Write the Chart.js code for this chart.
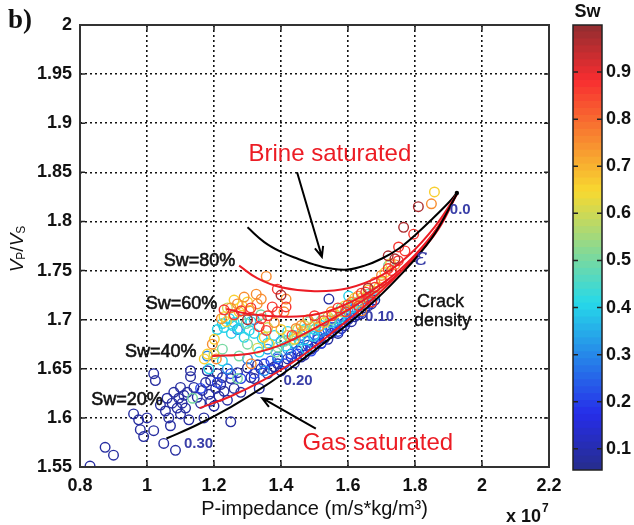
<!DOCTYPE html>
<html>
<head>
<meta charset="utf-8">
<script src="https://cdn.jsdelivr.net/npm/chart.js@4.4.0/dist/chart.umd.min.js"></script>
<style>
  html, body { margin: 0; padding: 0; background: #fff; }
  #wrap { position: relative; width: 634px; height: 525px; }
  #main { position: absolute; left: 0; top: 0; }
  #cbar { position: absolute; left: 560px; top: 0; }
</style>
</head>
<body>
<div id="wrap">
  <canvas id="main" width="634" height="525"></canvas>
  <canvas id="cbar" width="74" height="525"></canvas>
</div>
<script>
// axes
var xTicks = [0.8, 1, 1.2, 1.4, 1.6, 1.8, 2, 2.2];
var yTicks = [1.55, 1.6, 1.65, 1.7, 1.75, 1.8, 1.85, 1.9, 1.95, 2];
var cbTicks = [0.1, 0.2, 0.3, 0.4, 0.5, 0.6, 0.7, 0.8, 0.9];
var cbMin = 0.055, cbMax = 1.0;

// measured samples, grouped by water saturation (P-impedance x1e7, Vp/Vs)
var swLevels = [0.08, 0.2, 0.3, 0.4, 0.5, 0.6, 0.66, 0.75, 0.87, 0.97];

var ptsSw08 = [
  [0.83,1.551],[0.875,1.570],[0.90,1.562],[0.96,1.604],[0.975,1.598],[0.98,1.588],[0.99,1.581],
  [1.00,1.600],[1.02,1.587],[1.02,1.645],[1.025,1.638],[1.04,1.613],[1.05,1.574],[1.055,1.607],
  [1.06,1.620],[1.065,1.600],[1.07,1.592],[1.075,1.615],[1.08,1.626],[1.085,1.567],[1.09,1.610],
  [1.095,1.620],[1.10,1.604],[1.10,1.631],[1.105,1.615],[1.11,1.623],[1.115,1.610],[1.12,1.626],
  [1.125,1.598],[1.13,1.642],[1.13,1.648],[1.14,1.631],[1.15,1.621],[1.16,1.615],[1.165,1.628],
  [1.17,1.600],[1.175,1.636],[1.18,1.648],[1.185,1.624],[1.19,1.617],[1.19,1.638],[1.20,1.612],
  [1.205,1.630],[1.21,1.645],[1.215,1.622],[1.22,1.634],[1.225,1.641],[1.23,1.627],[1.24,1.618],
  [1.25,1.596],[1.25,1.640],[1.26,1.630],[1.27,1.646],[1.28,1.626],[1.30,1.651],[1.31,1.641],
  [1.335,1.630],[1.33,1.654],[1.36,1.645],[1.38,1.652],[1.40,1.648],[1.42,1.660],[1.44,1.656],
  [1.45,1.668],[1.47,1.664],[1.48,1.674],[1.50,1.672],[1.51,1.680],[1.53,1.681],[1.55,1.686],
  [1.56,1.692],[1.58,1.691],[1.60,1.700],[1.62,1.703],[1.63,1.705],[1.65,1.712],[1.67,1.716],
  [1.543,1.721],[1.37,1.650],[1.39,1.655],[1.43,1.662],[1.46,1.662],[1.49,1.670],[1.52,1.676],
  [1.54,1.680],[1.57,1.686],[1.59,1.694],[1.61,1.698],[1.64,1.706],[1.66,1.714],[1.68,1.720],
  [1.34,1.650],[1.32,1.640]
];
var ptsSw20 = [
  [1.16,1.630],[1.21,1.636],[1.28,1.640],[1.32,1.645],[1.37,1.658],[1.41,1.655],[1.43,1.665],
  [1.46,1.672],[1.49,1.668],[1.52,1.676],[1.54,1.690],[1.57,1.688],[1.59,1.697],[1.61,1.707],
  [1.64,1.708],[1.60,1.701],[1.39,1.660],[1.45,1.665],[1.48,1.678],[1.51,1.683],[1.55,1.692],
  [1.58,1.700],[1.62,1.711],[1.66,1.716],[1.35,1.655],[1.25,1.645]
];
var ptsSw30 = [
  [1.18,1.663],[1.24,1.650],[1.30,1.660],[1.35,1.648],[1.39,1.662],[1.44,1.676],[1.47,1.680],
  [1.50,1.685],[1.53,1.690],[1.56,1.698],[1.62,1.712],[1.66,1.720],[1.27,1.690],[1.32,1.700],
  [1.42,1.670],[1.46,1.684],[1.52,1.688],[1.58,1.703],[1.60,1.709],[1.68,1.724],[1.36,1.670],
  [1.40,1.678]
];
var ptsSw40 = [
  [1.246,1.701],[1.225,1.696],[1.255,1.694],[1.275,1.691],[1.305,1.689],[1.252,1.686],[1.344,1.681],
  [1.225,1.658],[1.335,1.667],[1.415,1.673],[1.454,1.679],[1.475,1.670],[1.498,1.683],[1.573,1.701],
  [1.602,1.724],[1.21,1.690],[1.29,1.682],[1.38,1.684],[1.52,1.694],[1.59,1.707],[1.64,1.716],
  [1.42,1.688],[1.185,1.650],[1.31,1.698],[1.44,1.684],[1.47,1.690],[1.50,1.690],[1.55,1.697],
  [1.61,1.712],[1.67,1.725],[1.36,1.676],[1.26,1.697],[1.28,1.700],[1.23,1.692],[1.32,1.686]
];
var ptsSw50 = [
  [1.136,1.620],[1.296,1.696],[1.225,1.670],[1.275,1.663],[1.385,1.667],[1.469,1.688],[1.484,1.698],
  [1.721,1.755],[1.41,1.678],[1.55,1.700],[1.63,1.718],[1.27,1.640],[1.34,1.705],[1.26,1.704],
  [1.43,1.679],[1.52,1.699],[1.58,1.712],[1.66,1.726],[1.39,1.672],[1.30,1.675]
];
var ptsSw60 = [
  [1.20,1.665],[1.33,1.671],[1.45,1.690],[1.58,1.708],[1.68,1.728],[1.24,1.712],[1.36,1.692],
  [1.50,1.695],[1.42,1.684],[1.54,1.703],[1.61,1.716],[1.70,1.738],[1.47,1.694],[1.64,1.722]
];
var ptsSw66 = [
  [1.284,1.714],[1.275,1.708],[1.237,1.698],[1.180,1.665],[1.201,1.680],[1.171,1.660],[1.365,1.675],
  [1.504,1.701],[1.463,1.688],[1.692,1.733],[1.727,1.757],[1.858,1.830],[1.40,1.690],[1.56,1.706],
  [1.62,1.722],[1.30,1.718],[1.26,1.720],[1.44,1.680],[1.53,1.697],[1.59,1.714],[1.66,1.730],
  [1.71,1.748],[1.35,1.682],[1.23,1.703]
];
var ptsSw75 = [
  [1.326,1.726],[1.341,1.721],[1.329,1.716],[1.356,1.744],[1.415,1.721],[1.305,1.709],[1.222,1.701],
  [1.195,1.675],[1.207,1.660],[1.311,1.655],[1.445,1.691],[1.513,1.693],[1.641,1.709],[1.611,1.718],
  [1.849,1.818],[1.409,1.708],[1.70,1.745],[1.48,1.700],[1.25,1.712],[1.29,1.723],[1.46,1.694],
  [1.55,1.708],[1.63,1.724],[1.68,1.738],[1.74,1.756],[1.38,1.697],[1.27,1.716]
];
var ptsSw87 = [
  [1.389,1.731],[1.281,1.709],[1.341,1.701],[1.335,1.693],[1.356,1.689],[1.389,1.708],[1.415,1.713],
  [1.374,1.713],[1.433,1.684],[1.653,1.728],[1.662,1.721],[1.671,1.718],[1.632,1.714],[1.552,1.704],
  [1.528,1.699],[1.593,1.708],[1.751,1.774],[1.796,1.787],[1.70,1.740],[1.73,1.750],[1.68,1.733],
  [1.26,1.705],[1.23,1.710],[1.60,1.715],[1.75,1.760],[1.50,1.704],[1.57,1.712],[1.64,1.727],
  [1.72,1.752],[1.77,1.770],[1.36,1.704],[1.31,1.712]
];
var ptsSw97 = [
  [1.810,1.815],[1.766,1.794],[1.72,1.765],[1.30,1.700],[1.40,1.725],[1.66,1.732],[1.74,1.762]
];
var swGroups = [ptsSw08, ptsSw20, ptsSw30, ptsSw40, ptsSw50, ptsSw60, ptsSw66, ptsSw75, ptsSw87, ptsSw97];

// model curves, crack density 0.30 -> 0.0
var gasX   = [1.058, 1.15, 1.25, 1.35, 1.45, 1.55, 1.65, 1.75, 1.85, 1.925];
var gasY   = [1.579, 1.593, 1.611, 1.632, 1.656, 1.682, 1.710, 1.743, 1.783, 1.828];
var sw20X  = [1.157, 1.25, 1.35, 1.45, 1.55, 1.65, 1.75, 1.85, 1.925];
var sw20Y  = [1.610, 1.622, 1.639, 1.660, 1.686, 1.714, 1.746, 1.785, 1.828];
var sw40X  = [1.195, 1.30, 1.39, 1.51, 1.62, 1.72, 1.80, 1.87, 1.925];
var sw40Y  = [1.663, 1.665, 1.673, 1.693, 1.714, 1.738, 1.763, 1.792, 1.828];
var sw60X  = [1.237, 1.30, 1.415, 1.513, 1.62, 1.72, 1.80, 1.87, 1.925];
var sw60Y  = [1.711, 1.706, 1.703, 1.706, 1.720, 1.741, 1.766, 1.795, 1.828];
var sw80X  = [1.275, 1.33, 1.40, 1.50, 1.60, 1.70, 1.78, 1.86, 1.925];
var sw80Y  = [1.755, 1.742, 1.733, 1.729, 1.732, 1.745, 1.765, 1.795, 1.828];
var brineX = [1.30, 1.35, 1.40, 1.45, 1.50, 1.55, 1.60, 1.65, 1.70, 1.75, 1.80, 1.85, 1.90, 1.925];
var brineY = [1.794, 1.779, 1.769, 1.762, 1.756, 1.752, 1.751, 1.755, 1.762, 1.772, 1.786, 1.802, 1.819, 1.829];

var FONT = "'Liberation Sans', Arial, Helvetica, sans-serif";
var RED = '#ec1c24';
var BLUE = '#3a3fa8';

// matlab-like jet colormap, toned down a little
function jet(v) {
  var t = (v - cbMin) / (cbMax - cbMin);
  var f = function(a) { return Math.max(0, Math.min(1, 1.5 - Math.abs(4 * t - a))); };
  var r = f(3), g = f(2), b = f(1);
  return 'rgb(' + Math.round(r * 210 + 38) + ',' + Math.round(g * 172 + 45) + ',' + Math.round(b * 185 + 48) + ')';
}

function zip(xs, ys) {
  return xs.map(function(x, i) { return {x: x, y: ys[i]}; });
}

var datasets = [];
swGroups.forEach(function(pts, i) {
  datasets.push({
    data: pts.map(function(p) { return {x: p[0], y: p[1]}; }),
    pointStyle: 'circle',
    pointRadius: 4.8,
    pointBorderWidth: 1.4,
    pointBackgroundColor: 'rgba(0,0,0,0)',
    pointBorderColor: jet(swLevels[i]),
    showLine: false,
    order: 20 - i
  });
});

function curve(xs, ys, color) {
  return {
    data: zip(xs, ys),
    showLine: true,
    borderColor: color,
    borderWidth: 2,
    pointRadius: 0,
    tension: 0.4,
    fill: false,
    order: 1
  };
}
datasets.push(curve(gasX, gasY, '#000'));
datasets.push(curve(sw20X, sw20Y, RED));
datasets.push(curve(sw40X, sw40Y, RED));
datasets.push(curve(sw60X, sw60Y, RED));
datasets.push(curve(sw80X, sw80Y, RED));
datasets.push(curve(brineX, brineY, '#000'));

function text(ctx, s, x, y, font, color, align, heavy) {
  ctx.font = font;
  ctx.fillStyle = color;
  ctx.textAlign = align || 'center';
  ctx.textBaseline = 'middle';
  ctx.fillText(s, x, y);
  if (heavy) {
    ctx.strokeStyle = color;
    ctx.lineWidth = heavy;
    ctx.strokeText(s, x, y);
  }
}

function arrow(ctx, x0, y0, x1, y1) {
  var a = Math.atan2(y1 - y0, x1 - x0), h = 11;
  ctx.beginPath();
  ctx.moveTo(x0, y0);
  ctx.lineTo(x1, y1);
  ctx.moveTo(x1 - h * Math.cos(a - 0.4), y1 - h * Math.sin(a - 0.4));
  ctx.lineTo(x1, y1);
  ctx.lineTo(x1 - h * Math.cos(a + 0.4), y1 - h * Math.sin(a + 0.4));
  ctx.stroke();
}

var frame = {
  id: 'frame',
  afterDatasetsDraw: function(chart) {
    var ctx = chart.ctx, a = chart.chartArea;
    var sx = chart.scales.x, sy = chart.scales.y;
    ctx.save();
    ctx.strokeStyle = '#222';
    ctx.lineWidth = 1.5;
    ctx.beginPath();
    xTicks.forEach(function(v) {
      var p = sx.getPixelForValue(v);
      ctx.moveTo(p, a.bottom); ctx.lineTo(p, a.bottom - 5);
      ctx.moveTo(p, a.top); ctx.lineTo(p, a.top + 5);
    });
    yTicks.forEach(function(v) {
      var p = sy.getPixelForValue(v);
      ctx.moveTo(a.left, p); ctx.lineTo(a.left + 5, p);
      ctx.moveTo(a.right, p); ctx.lineTo(a.right - 5, p);
    });
    ctx.stroke();
    ctx.lineWidth = 2;
    ctx.strokeStyle = '#333';
    ctx.strokeRect(a.left, a.top, a.right - a.left, a.bottom - a.top);
    ctx.restore();
  }
};

var notes = {
  id: 'notes',
  afterDraw: function(chart) {
    var ctx = chart.ctx;
    var X = function(v) { return chart.scales.x.getPixelForValue(v); };
    var Y = function(v) { return chart.scales.y.getPixelForValue(v); };
    ctx.save();

    text(ctx, 'Brine saturated', X(1.546), Y(1.868), '24px ' + FONT, RED);
    text(ctx, 'Gas saturated', X(1.689), Y(1.574), '24px ' + FONT, RED);

    text(ctx, 'Sw=80%', X(1.157), Y(1.760), '18px ' + FONT, '#111', 'center', 0.6);
    text(ctx, 'Sw=60%', X(1.103), Y(1.716), '18px ' + FONT, '#111', 'center', 0.6);
    text(ctx, 'Sw=40%', X(1.041), Y(1.667), '18px ' + FONT, '#111', 'center', 0.6);
    text(ctx, 'Sw=20%', X(0.940), Y(1.618), '18px ' + FONT, '#111', 'center', 0.6);

    text(ctx, 'Crack', X(1.876), Y(1.718), '18px ' + FONT, '#111', 'center', 0.4);
    text(ctx, 'density', X(1.882), Y(1.699), '18px ' + FONT, '#111', 'center', 0.4);

    text(ctx, '0.0', X(1.935), Y(1.812), 'bold 15px ' + FONT, BLUE);
    text(ctx, '0.10', X(1.694), Y(1.703), 'bold 15px ' + FONT, BLUE);
    text(ctx, '0.20', X(1.451), Y(1.638), 'bold 15px ' + FONT, BLUE);
    text(ctx, '0.30', X(1.154), Y(1.574), 'bold 15px ' + FONT, BLUE);
    text(ctx, '\u03b5', X(1.819), Y(1.762), 'italic 24px DejaVu Serif, serif', BLUE);

    ctx.strokeStyle = '#000';
    ctx.lineWidth = 2;
    arrow(ctx, X(1.448), Y(1.850), X(1.522), Y(1.764));
    arrow(ctx, X(1.504), Y(1.589), X(1.344), Y(1.620));

    // crack density zero point
    ctx.fillStyle = '#000';
    ctx.beginPath();
    ctx.arc(X(brineX[brineX.length - 1]), Y(brineY[brineY.length - 1]), 2.2, 0, Math.PI * 2);
    ctx.fill();

    // panel letter
    text(ctx, 'b)', 20, 21, 'bold 27px "Liberation Serif", "Times New Roman", serif', '#111');

    // y axis title: Vp/Vs
    ctx.translate(18, (chart.chartArea.top + chart.chartArea.bottom) / 2 + 3);
    ctx.rotate(-Math.PI / 2);
    var big = 'italic 19px ' + FONT, small = '12px ' + FONT, mid = '19px ' + FONT;
    var parts = [['V', big, 0], ['P', small, 4], ['/', mid, 0], ['V', big, 0], ['S', small, 4]];
    var w = 0;
    parts.forEach(function(p) { ctx.font = p[1]; w += ctx.measureText(p[0]).width; });
    var cx = -w / 2;
    ctx.fillStyle = '#111';
    ctx.textAlign = 'left';
    ctx.textBaseline = 'middle';
    parts.forEach(function(p) {
      ctx.font = p[1];
      ctx.fillText(p[0], cx, p[2]);
      cx += ctx.measureText(p[0]).width;
    });
    ctx.restore();

    // exponent label under the x axis
    ctx.save();
    ctx.fillStyle = '#111';
    ctx.textBaseline = 'alphabetic';
    ctx.textAlign = 'left';
    ctx.font = 'bold 18px ' + FONT;
    ctx.fillText('x 10', 506, 522);
    var tw = ctx.measureText('x 10').width;
    ctx.font = 'bold 12px ' + FONT;
    ctx.fillText('7', 506 + tw + 1, 512);
    ctx.restore();
  }
};

Chart.defaults.font.family = FONT;
Chart.defaults.color = '#111';

new Chart(document.getElementById('main'), {
  type: 'scatter',
  data: { datasets: datasets },
  options: {
    responsive: false,
    animation: false,
    layout: { padding: { top: 25, right: 85, left: 0, bottom: 0 } },
    plugins: { legend: { display: false }, tooltip: { enabled: false } },
    scales: {
      x: {
        type: 'linear', min: 0.8, max: 2.2,
        afterBuildTicks: function(s) { s.ticks = xTicks.map(function(v) { return {value: v}; }); },
        afterFit: function(s) { s.height = 58; },
        ticks: { font: { size: 18, weight: 'bold' }, padding: 8, maxRotation: 0,
                 callback: function(v) { return String(v); } },
        grid: { color: '#111', lineWidth: 1.6, drawTicks: false },
        border: { display: false, dash: [2, 3] },
        title: { display: true, text: 'P-impedance (m/s*kg/m\u00b3)', font: { size: 20 },
                 padding: { top: 0, bottom: 4 } }
      },
      y: {
        type: 'linear', min: 1.55, max: 2,
        afterBuildTicks: function(s) { s.ticks = yTicks.map(function(v) { return {value: v}; }); },
        afterFit: function(s) { s.width = 80; },
        ticks: { font: { size: 18, weight: 'bold' }, padding: 8,
                 callback: function(v) { return String(v); } },
        grid: { color: '#111', lineWidth: 1.6, drawTicks: false },
        border: { display: false, dash: [2, 3] }
      }
    }
  },
  plugins: [frame, notes]
});

// colour bar: one floating bar per colormap band
var bands = [];
var nBands = 64, step = (cbMax - cbMin) / nBands;
for (var i = 0; i < nBands; i++) {
  var lo = cbMin + i * step;
  bands.push({
    data: [[lo, lo + step * 1.02]],
    backgroundColor: jet(lo + step / 2),
    borderWidth: 0,
    barPercentage: 1,
    categoryPercentage: 1,
    grouped: false
  });
}

var cbFrame = {
  id: 'cbFrame',
  afterDraw: function(chart) {
    var ctx = chart.ctx, a = chart.chartArea, sy = chart.scales.y;
    ctx.save();
    ctx.strokeStyle = '#222';
    ctx.lineWidth = 1.5;
    ctx.beginPath();
    cbTicks.forEach(function(v) {
      var p = sy.getPixelForValue(v);
      ctx.moveTo(a.right, p); ctx.lineTo(a.right - 5, p);
      ctx.moveTo(a.left, p); ctx.lineTo(a.left + 5, p);
    });
    ctx.stroke();
    ctx.strokeRect(a.left, a.top, a.right - a.left, a.bottom - a.top);
    text(ctx, 'Sw', (a.left + a.right) / 2, 12, 'bold 18px ' + FONT, '#111');
    ctx.restore();
  }
};

new Chart(document.getElementById('cbar'), {
  type: 'bar',
  data: { labels: ['Sw'], datasets: bands },
  options: {
    responsive: false,
    animation: false,
    layout: { padding: { top: 25, right: 0, left: 13, bottom: 55 } },
    plugins: { legend: { display: false }, tooltip: { enabled: false } },
    scales: {
      x: { display: false },
      y: {
        position: 'right', min: cbMin, max: cbMax,
        afterBuildTicks: function(s) { s.ticks = cbTicks.map(function(v) { return {value: v}; }); },
        afterFit: function(s) { s.width = 32; },
        ticks: { font: { size: 18, weight: 'bold' }, padding: 4,
                 callback: function(v) { return String(v); } },
        grid: { display: false, drawTicks: false },
        border: { display: false }
      }
    }
  },
  plugins: [cbFrame]
});
</script>
</body>
</html>
